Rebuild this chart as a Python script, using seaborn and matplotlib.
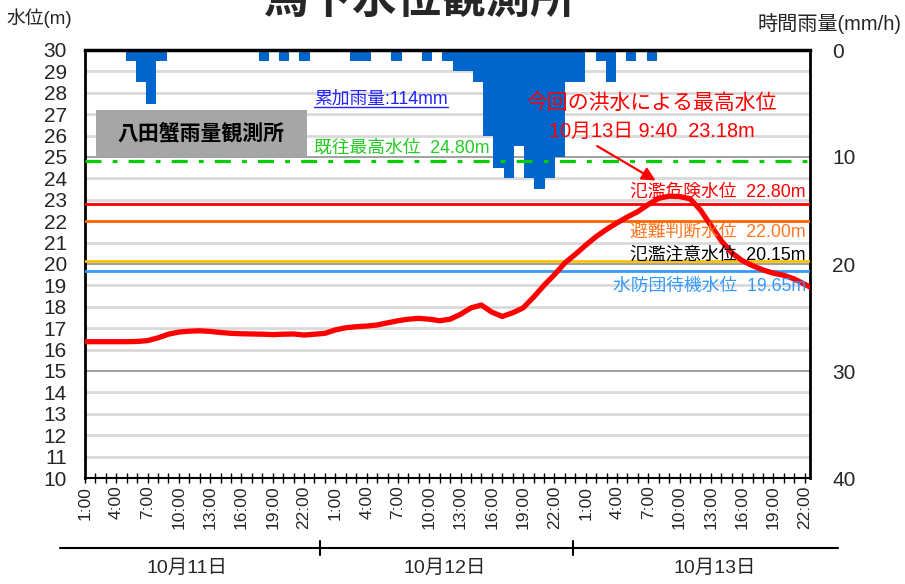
import numpy as np
import pandas as pd
import seaborn as sns
import matplotlib.pyplot as plt
import matplotlib.transforms as mtransforms
from matplotlib.lines import Line2D
from matplotlib.patches import Rectangle

# ---------------- data ----------------
hours = list(range(71))  # hours since 10/11 1:00
level = [16.37, 16.37, 16.37, 16.37, 16.37, 16.38, 16.42, 16.55, 16.72, 16.82,
         16.86, 16.88, 16.85, 16.80, 16.76, 16.74, 16.73, 16.72, 16.70, 16.72,
         16.73, 16.68, 16.72, 16.76, 16.92, 17.02, 17.07, 17.10, 17.15, 17.25,
         17.35, 17.42, 17.46, 17.42, 17.35, 17.42, 17.65, 17.95, 18.08, 17.75,
         17.55, 17.72, 17.95, 18.45, 19.00, 19.50, 20.05, 20.45, 20.88, 21.28,
         21.62, 21.92, 22.20, 22.45, 22.78, 23.07, 23.17, 23.15, 23.05, 22.52,
         21.80, 21.08, 20.52, 20.16, 19.92, 19.72, 19.57, 19.47, 19.30, 19.05,
         18.80]
rain_slots = list(range(71))
rain = [0, 0, 0, 0, 1, 3, 5, 1,
        0, 0, 0, 0, 0, 0, 0, 0, 0,
        1, 0, 1, 0, 1,
        0, 0, 0, 0,
        1, 1, 0, 0, 1, 0, 0, 1, 0,
        1, 2, 2, 3, 8, 11, 12, 9, 12, 13, 12, 10, 3, 3,
        0, 1, 3, 0, 1, 0, 1,
        0, 0, 0, 0, 0, 0, 0, 0, 0, 0, 0, 0, 0, 0, 0]
days = ['10月11日', '10月12日', '10月13日']
threshold_names = ['既往最高水位', '氾濫危険水位', '避難判断水位', '氾濫注意水位', '水防団待機水位']
threshold_values = [24.80, 22.80, 22.00, 20.15, 19.65]
threshold_colors = ['#00CC00', '#FF0000', '#FF6600', '#FFC000', '#3399FF']
threshold_text_colors = ['#22CC22', '#FF0000', '#FF7722', '#000000', '#3399FF']
total_rain = 114
peak_text = '10月13日 9:40  23.18m'
title = '馬下水位観測所'
station = '八田蟹雨量観測所'

# ---------------- style ----------------
sns.set_theme(style='white')
plt.rcParams['font.family'] = ['Liberation Sans', 'Noto Sans CJK JP', 'DejaVu Sans']

W, H = 905, 584
fig = plt.figure(figsize=(W / 100, H / 100), dpi=100)
rect = [85 / W, 106 / H, 725 / W, 428 / H]
ax2 = fig.add_axes(rect, zorder=1)
ax = fig.add_axes(rect, zorder=2)
ax.patch.set_visible(False)

# rain bars (secondary, inverted)
sns.barplot(x=rain_slots, y=rain, ax=ax2, color='#0066CC', width=1.0,
            saturation=1, linewidth=0, errorbar=None)
ax2.set_xlim(-0.5, 70.5)
ax2.set_ylim(40, 0)
ax2.yaxis.tick_right()
ax2.set_yticks([0, 10, 20, 30, 40])
ax2.set_yticks(range(0, 41, 2), minor=True)
ax2.tick_params(axis='y', which='both', length=0, labelsize=15, pad=16,
                labelleft=False)
ax2.tick_params(axis='y', which='minor', labelright=False)
ax2.set_xticks([])
ax2.set_xlabel('')
ax2.set_ylabel('')
ax2.grid(axis='y', which='major', color='#9A9A9A', lw=1.3)
ax2.grid(axis='y', which='minor', color='#D9D9D9', lw=2)
ax2.set_axisbelow(True)
for s in ax2.spines.values():
    s.set_visible(False)

# water level
sns.lineplot(x=hours, y=level, ax=ax, color='#FF0000', lw=3.8, zorder=6)
ax.set_xlim(0, 69.5)
ax.set_ylim(10, 30)
ax.set_yticks(range(10, 31))
ax.tick_params(axis='y', length=0, labelsize=15, pad=13)
ax.set_xticks(range(70))
ax.set_xticklabels([f'{i % 24 + 1}:00' if i % 3 == 0 else '' for i in range(70)],
                   rotation=90)
ax.tick_params(axis='x', direction='inout', length=7, width=1, color='black',
               labelsize=12.5, pad=2, bottom=True)
ax.set_xlabel('')
ax.set_ylabel('')
ax.grid(False)
for name, s in ax.spines.items():
    s.set_visible(True)
    s.set_color('black')
ax.spines['top'].set_linewidth(2.5)
ax.spines['left'].set_linewidth(2)
ax.spines['right'].set_linewidth(2)
ax.spines['bottom'].set_linewidth(1.5)

# threshold lines
for v, c in zip(threshold_values, threshold_colors):
    if v == 24.80:
        ax.axhline(v, color=c, lw=2.3, ls=(0, (5, 3.5, 1.5, 3.5)), zorder=4)
    else:
        ax.axhline(v, color=c, lw=2, zorder=4)

# threshold labels
label_y = [25.42, 23.36, 21.5, 20.42, 18.97]
for i, (n, v, c, yy) in enumerate(zip(threshold_names, threshold_values,
                                       threshold_text_colors, label_y)):
    txt = f'{n}  {v:.2f}m'
    if i == 0:
        ax.text(22.0, yy, txt, color=c, fontsize=12.8, ha='left', va='center', zorder=7)
    else:
        ax.text(69.1, yy, txt, color=c, fontsize=12.8, ha='right', va='center', zorder=7)

# station box
ax.add_patch(Rectangle((1.05, 25.05), 20.25, 2.15, facecolor='#A6A6A6',
                       edgecolor='none', zorder=3))
ax.text(11.15, 26.12, station, fontsize=15, fontweight='bold', ha='center',
        va='center', color='black', zorder=7)

# cumulative rain
t_rain = ax.text(22.0, 27.72, f'累加雨量:{total_rain}mm', color='#2222FF',
                 fontsize=12.8, ha='left', va='center', zorder=7)

# peak annotation
ax.text(54.3, 27.52, '今回の洪水による最高水位', color='#FF0000', fontsize=15,
        ha='center', va='center', zorder=7)
ax.text(54.3, 26.21, peak_text, color='#FF0000', fontsize=14.3,
        ha='center', va='center', zorder=7)
ax.annotate('', xy=(54.7, 23.9), xytext=(49.1, 25.51),
            arrowprops=dict(arrowstyle='-|>', color='#FF0000', lw=1.6,
                            mutation_scale=20, shrinkA=0, shrinkB=0), zorder=7)

# day axis below
tr = mtransforms.blended_transform_factory(ax.transData, fig.transFigure)
yline = (H - 548) / H
fig.add_artist(Line2D([-2.4, 72.2], [yline, yline], transform=tr, color='black', lw=1.5))
for xb in [22.5, 46.8]:
    fig.add_artist(Line2D([xb, xb], [(H - 541) / H, (H - 555) / H], transform=tr,
                          color='black', lw=1.5))
for d, xc in zip(days, [9.8, 34.5, 60.4]):
    fig.text(xc, (H - 568) / H, d, transform=tr, fontsize=14, ha='center', va='center')

# titles
fig.text(420 / W, (H - 14) / H, title, fontsize=32, fontweight='bold',
         ha='center', va='baseline')
fig.text(6 / W, (H - 18) / H, '水位(m)', fontsize=13.5, ha='left', va='center')
fig.text(901 / W, (H - 24) / H, '時間雨量(mm/h)', fontsize=14.5, ha='right', va='center')

# underline for cumulative rain text
fig.canvas.draw()
bb = t_rain.get_window_extent()
inv = fig.transFigure.inverted()
(x0, y0), (x1, _) = inv.transform([(bb.x0, bb.y0), (bb.x1, bb.y0)])
fig.add_artist(Line2D([x0, x1], [y0 + 0.001, y0 + 0.001], color='#2222FF', lw=1))

fig.savefig('out.png', dpi=100)
